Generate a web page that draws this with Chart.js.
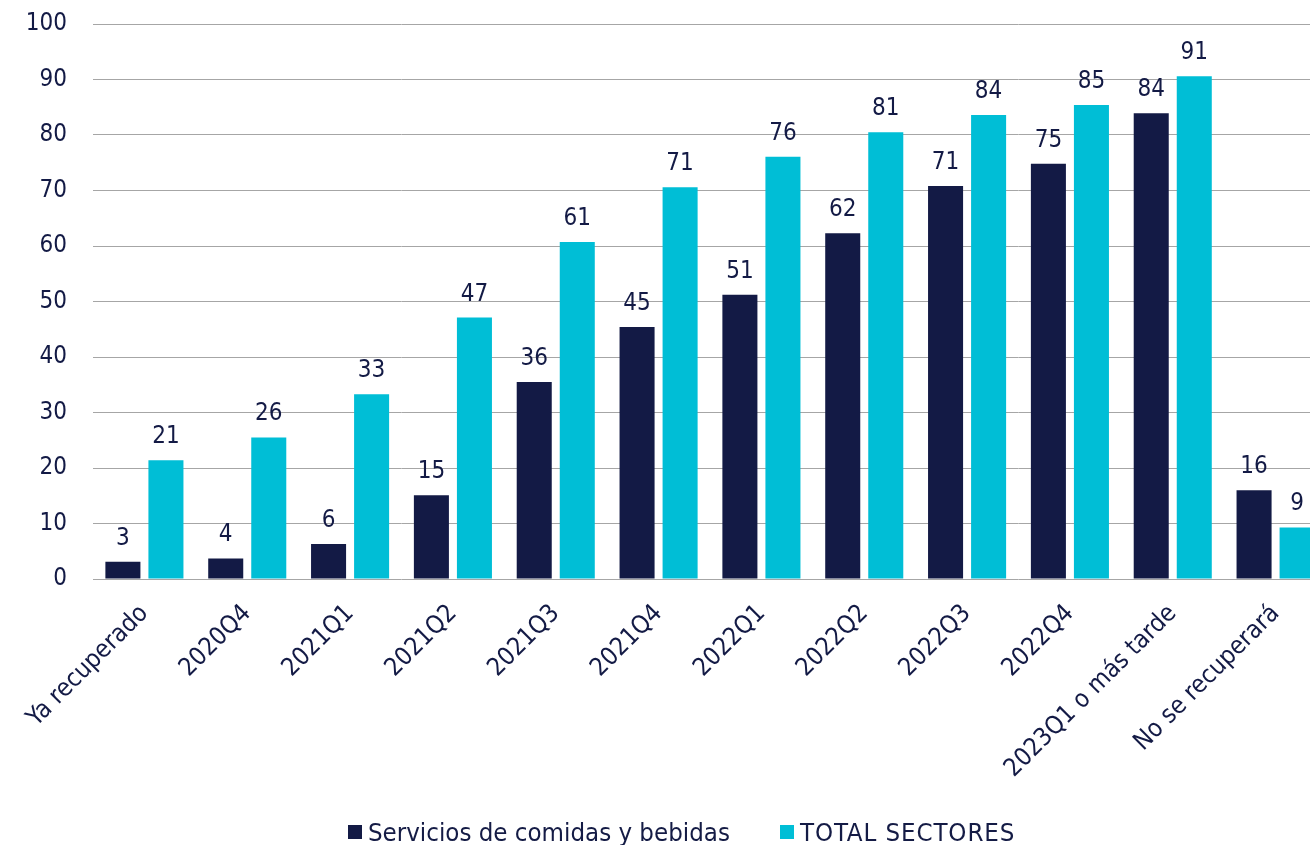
<!DOCTYPE html>
<html>
<head>
<meta charset="utf-8">
<script src="https://cdn.jsdelivr.net/npm/chart.js@4.4.1/dist/chart.umd.min.js"></script>
<style>
  html, body { margin: 0; padding: 0; background: #ffffff; overflow: hidden; }
  #wrap { position: relative; width: 1310px; height: 845px; overflow: hidden; }
  #c { position: absolute; left: 0; top: 0; }
  #legend { position: absolute; left: 348px; top: 817px; display: flex; align-items: center; line-height: 30px;
            font-family: "DejaVu Sans Condensed", "DejaVu Sans", sans-serif; font-size: 25.6px; color: #141B45; white-space: nowrap; }
  .item { display: flex; align-items: center; margin-right: 50px; }
  .item:last-child span:last-child { letter-spacing: 0.9px; }
  .box { width: 14px; height: 14px; margin-right: 6px; }
</style>
</head>
<body>
<div id="wrap">
  <canvas id="c" width="1327" height="845"></canvas>
  <div id="legend"></div>
</div>
<script>
const categories = ["Ya recuperado", "2020Q4", "2021Q1", "2021Q2", "2021Q3", "2021Q4", "2022Q1", "2022Q2", "2022Q3", "2022Q4", "2023Q1 o más tarde", "No se recuperará"];
const serviciosComidas = [3.1, 3.7, 6.3, 15.1, 35.5, 45.4, 51.2, 62.3, 70.8, 74.8, 83.9, 16.0];
const totalSectores = [21.4, 25.5, 33.3, 47.1, 60.7, 70.6, 76.1, 80.5, 83.6, 85.4, 90.6, 9.3];
const seriesNames = ["Servicios de comidas y bebidas", "TOTAL SECTORES"];
const yTicks = [0, 10, 20, 30, 40, 50, 60, 70, 80, 90, 100];

const NAVY = "#131A45";
const CYAN = "#00BED6";
const FONT = "DejaVu Sans Condensed";

const dataLabels = {
  id: "dataLabels",
  afterDatasetsDraw(chart) {
    const ctx = chart.ctx;
    ctx.save();
    ctx.font = "24px '" + FONT + "'";
    ctx.fillStyle = NAVY;
    ctx.textAlign = "center";
    ctx.textBaseline = "alphabetic";
    chart.data.datasets.forEach((ds, di) => {
      const meta = chart.getDatasetMeta(di);
      meta.data.forEach((el, i) => {
        ctx.fillText(String(Math.round(ds.data[i])), el.x, el.y - 17);
      });
    });
    ctx.restore();
  }
};

const chart = new Chart(document.getElementById("c"), {
  type: "bar",
  data: {
    labels: categories,
    datasets: [
      { label: seriesNames[0], data: serviciosComidas, backgroundColor: NAVY },
      { label: seriesNames[1], data: totalSectores, backgroundColor: CYAN }
    ]
  },
  options: {
    responsive: false,
    animation: false,
    devicePixelRatio: 1,
    categoryPercentage: 0.837,
    barPercentage: 0.814,
    layout: { padding: { top: 24, right: 0, bottom: 0, left: 0 } },
    plugins: { legend: { display: false }, tooltip: { enabled: false } },
    scales: {
      x: {
        grid: { display: false, drawTicks: false },
        border: { display: false },
        ticks: { color: NAVY, font: { family: FONT, size: 25 }, maxRotation: 45, minRotation: 45, padding: 20, autoSkip: false },
        afterFit(s) { s.height = 266; s.paddingLeft = 0; s.paddingRight = 0; }
      },
      y: {
        min: 0, max: 100,
        afterBuildTicks(s) { s.ticks = yTicks.map(v => ({ value: v })); },
        grid: { color: "#A6A6A6", lineWidth: 1, drawTicks: false },
        border: { display: false },
        ticks: { color: NAVY, font: { family: FONT, size: 24 }, padding: 26 },
        afterFit(s) { s.width = 93; s.paddingTop = 0; s.paddingBottom = 0; }
      }
    }
  },
  plugins: [dataLabels]
});

const legend = document.getElementById("legend");
chart.data.datasets.forEach(ds => {
  const item = document.createElement("div");
  item.className = "item";
  const box = document.createElement("span");
  box.className = "box";
  box.style.background = ds.backgroundColor;
  const txt = document.createElement("span");
  txt.textContent = ds.label;
  item.appendChild(box);
  item.appendChild(txt);
  legend.appendChild(item);
});
</script>
</body>
</html>
